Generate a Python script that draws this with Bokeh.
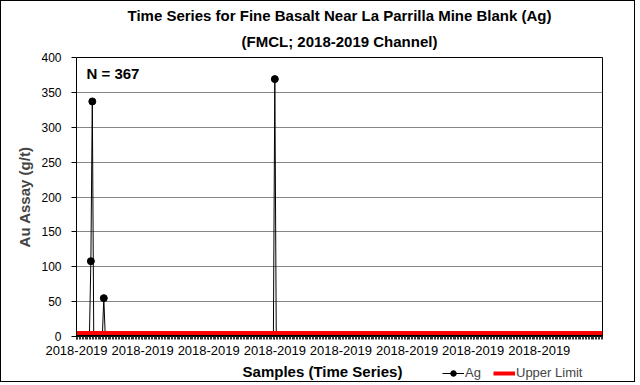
import numpy as np
from bokeh.plotting import figure
from bokeh.layouts import column
from bokeh.models import (Label, Legend, LegendItem, FixedTicker, ColumnDataSource, Title)
from bokeh.embed import file_html
from bokeh.resources import INLINE

# ---- data ----
ag = [
    1, 1, 1, 1, 1, 1, 1, 1, 1, 1, 108, 337, 1, 1, 1, 1, 1, 1, 1, 55,
    1, 1, 1, 1, 1, 1, 1, 1, 1, 1, 1, 1, 1, 1, 1, 1, 1, 1, 1, 1,
    1, 1, 1, 1, 1, 1, 1, 1, 1, 1, 1, 1, 1, 1, 1, 1, 1, 1, 1, 1,
    1, 1, 1, 1, 1, 1, 1, 1, 1, 1, 1, 1, 1, 1, 1, 1, 1, 1, 1, 1,
    1, 1, 1, 0, 1, 1, 1, 1, 1, 1, 1, 1, 1, 1, 1, 1, 1, 1, 1, 1,
    1, 1, 1, 1, 1, 1, 1, 1, 1, 1, 1, 1, 1, 1, 1, 1, 1, 1, 1, 1,
    1, 1, 1, 1, 1, 1, 1, 1, 1, 1, 1, 1, 1, 1, 1, 1, 1, 1, 369, 1,
    1, 1, 1, 1, 1, 1, 1, 1, 1, 1, 1, 1, 1, 1, 1, 1, 1, 1, 1, 1,
    1, 1, 1, 1, 1, 1, 1, 1, 1, 1, 1, 1, 1, 1, 1, 1, 1, 1, 1, 1,
    1, 1, 1, 1, 1, 1, 1, 1, 1, 1, 1, 1, 1, 1, 1, 1, 1, 1, 1, 1,
    1, 1, 1, 1, 1, 1, 1, 1, 1, 1, 1, 1, 1, 1, 1, 1, 1, 1, 1, 1,
    1, 1, 1, 1, 1, 1, 1, 1, 1, 1, 1, 1, 1, 1, 1, 1, 1, 1, 1, 1,
    1, 1, 1, 1, 1, 1, 1, 1, 1, 1, 1, 1, 1, 1, 1, 1, 1, 1, 1, 1,
    1, 1, 1, 1, 1, 1, 1, 1, 1, 1, 1, 1, 1, 1, 1, 1, 1, 1, 1, 1,
    1, 1, 1, 1, 1, 1, 1, 1, 1, 1, 1, 1, 1, 1, 1, 1, 1, 1, 1, 1,
    1, 1, 1, 1, 1, 1, 1, 1, 1, 1, 1, 1, 1, 1, 1, 0, 1, 1, 1, 1,
    1, 1, 1, 1, 1, 1, 1, 1, 1, 1, 1, 1, 1, 1, 1, 1, 1, 1, 1, 1,
    1, 1, 1, 1, 1, 1, 1, 1, 1, 1, 1, 1, 1, 1, 1, 1, 1, 1, 1, 1,
    1, 1, 1, 1, 1, 1, 1,
]
upper_limit_value = 5
samples = list(range(len(ag)))
upper_limit = [upper_limit_value for _ in samples]
label_every = 46
tick_label = "2018-2019"
y_ticks = [0, 50, 100, 150, 200, 250, 300, 350, 400]
title1 = "Time Series for Fine Basalt Near La Parrilla Mine Blank (Ag)"
title2 = "(FMCL; 2018-2019 Channel)"
n_text = "N = 367"
x_title = "Samples (Time Series)"
y_title = "Au Assay (g/t)"
series_names = ["Ag", "Upper Limit"]

FONT = "Liberation Sans"
W = 633

src = ColumnDataSource(dict(x=samples, ag=ag, ul=upper_limit))

# ---------------- main chart ----------------
p = figure(width=W, height=358, output_backend="svg", toolbar_location=None,
           x_range=(0, len(ag) - 1), y_range=(0, 400),
           min_border_left=75, min_border_right=32, min_border_top=56,
           min_border_bottom=23)

p.outline_line_color = "black"
p.outline_line_width = 1
p.background_fill_color = "white"
p.border_fill_color = "white"

# titles (last added is outermost)
p.add_layout(Title(text=title2, align="center", text_font=FONT, text_font_style="bold",
                   text_font_size="15px", text_color="black", standoff=15), "above")
p.add_layout(Title(text=title1, align="center", text_font=FONT, text_font_style="bold",
                   text_font_size="15px", text_color="black", standoff=0), "above")

# grid
p.xgrid.visible = False
p.ygrid.ticker = FixedTicker(ticks=y_ticks)
p.ygrid.grid_line_color = "#868686"
p.ygrid.grid_line_width = 1

# y axis
p.yaxis.ticker = FixedTicker(ticks=y_ticks)
p.yaxis.axis_label = y_title
p.yaxis.axis_label_text_font = FONT
p.yaxis.axis_label_text_font_style = "bold"
p.yaxis.axis_label_text_font_size = "15px"
p.yaxis.axis_label_standoff = 5
p.yaxis.major_label_text_font = FONT
p.yaxis.major_label_text_font_size = "12px"
p.yaxis.major_label_text_color = "black"
p.yaxis.axis_line_color = "black"
p.yaxis.major_tick_line_color = "black"
p.yaxis.major_tick_out = 5
p.yaxis.major_tick_in = 0
p.yaxis.minor_tick_line_color = None
p.yaxis.major_label_standoff = 10

# x axis
major = [i for i in samples if i % label_every == 0]
p.xaxis.ticker = FixedTicker(ticks=major, minor_ticks=samples)
p.xaxis.major_label_overrides = {i: tick_label for i in major}
p.xaxis.major_label_text_font = FONT
p.xaxis.major_label_text_font_size = "13px"
p.xaxis.major_label_text_color = "black"
p.xaxis.axis_line_color = "black"
p.xaxis.major_tick_line_color = "black"
p.xaxis.major_tick_out = 3
p.xaxis.major_tick_in = 0
p.xaxis.minor_tick_line_color = "#333333"
p.xaxis.minor_tick_out = 3
p.xaxis.minor_tick_in = 0
p.xaxis.major_label_standoff = 6

# series
r_ag = p.line("x", "ag", source=src, line_color="black", line_width=1)
r_ag_m = p.scatter("x", "ag", source=src, size=7, fill_color="black", line_color="black")
r_ul = p.line("x", "ul", source=src, line_color="#ff0000", line_width=4)

p.add_layout(Label(x=10, y=263, x_units="screen", y_units="screen", text=n_text,
                   text_font=FONT, text_font_style="bold", text_font_size="15px",
                   text_baseline="middle", text_color="black"))

# ---------------- footer: x-axis title and legend ----------------
# (the column aligns this frame with the main frame, whose left edge is at 75px)
f = figure(width=W, height=22, output_backend="svg", toolbar_location=None,
           x_range=(0, W), y_range=(0, 22),
           min_border_left=0, min_border_right=0, min_border_top=0, min_border_bottom=0)
f.axis.visible = False
f.grid.visible = False
f.outline_line_color = None
f.border_fill_color = "white"

f.add_layout(Label(x=246, y=10, x_units="screen", y_units="screen", text=x_title,
                   text_font=FONT, text_font_style="bold", text_font_size="15px",
                   text_align="center", text_baseline="middle", text_color="black"))

# legend-only renderers (a single missing point, nothing visible in the footer)
key_src = ColumnDataSource(dict(x=np.array([np.nan]), y=np.array([np.nan])))
l_ag = f.line("x", "y", source=key_src, line_color="black", line_width=1)
l_ag_m = f.scatter("x", "y", source=key_src, size=7, fill_color="black", line_color="black")
l_ul = f.line("x", "y", source=key_src, line_color="#ff0000", line_width=4)

legend = Legend(items=[LegendItem(label=series_names[0], renderers=[l_ag, l_ag_m]),
                       LegendItem(label=series_names[1], renderers=[l_ul])],
                location=(366, 1), orientation="horizontal",
                label_text_font=FONT, label_text_font_size="13px",
                glyph_width=22, glyph_height=14, label_height=14,
                label_standoff=1, spacing=8, padding=0, margin=0,
                border_line_color=None, background_fill_alpha=0)
f.add_layout(legend, "center")

layout = column(p, f, spacing=0, styles={"border": "1px solid black"})

open("out.html", "w").write(file_html(layout, INLINE))
